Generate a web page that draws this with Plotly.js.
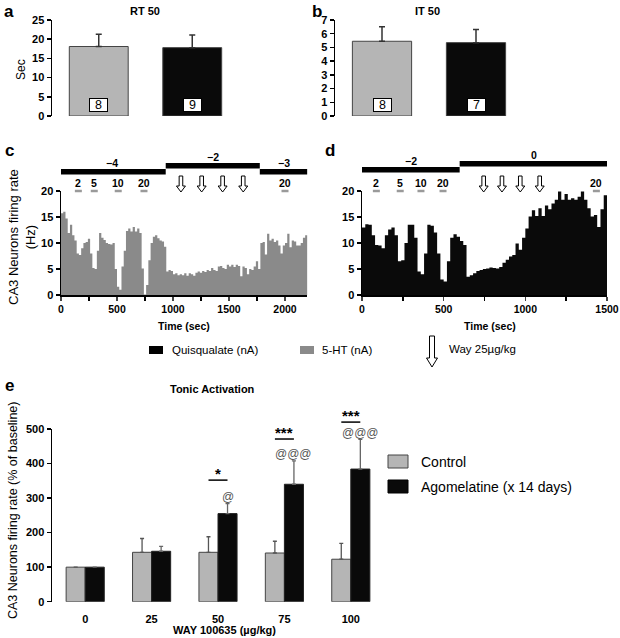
<!DOCTYPE html>
<html><head><meta charset="utf-8">
<script src="https://cdn.plot.ly/plotly-3.0.1.min.js"></script>
<style>html,body{margin:0;padding:0;background:#fff}#chart{width:620px;height:638px}</style>
</head><body><div id="chart"></div>
<script>
// ---------- DATA ----------
const groups = ['Control', 'Agomelatine'];
const rt50 = [18.1, 17.8];
const rt50Err = [3.2, 3.3];
const rt50N = ['8', '9'];
const it50 = [5.45, 5.35];
const it50Err = [1.05, 0.95];
const it50N = ['8', '7'];

// firing-rate histograms (Hz), 20-s bins starting at t = 0
const binWidth = 20;
const rateC = [15.7,16,14.7,11.9,13.5,11.5,10.5,8,7.7,9,
  10,10.2,10.8,8,5.2,5,8.5,11.9,11,10.6,
  10,9.8,9.7,10,5,1.6,1,5.5,8.5,12.3,
  12.8,12.2,13.1,12.2,12.8,11.9,5.1,0.1,1.9,6.7,
  10,11.2,11.5,10.9,10.5,10.3,9.3,4.5,4.8,4.6,
  4,4.2,3.8,4,3.8,4.2,3.7,4.2,4,3.7,
  4.3,4.5,4.3,4.6,4.4,4.8,4.6,5.2,4.8,4.6,
  5.5,5.6,5.2,5,5.8,5.5,5.8,5.4,5.8,5.6,
  3.6,5.5,5.2,4,5,4.8,5.5,6.5,5,10,
  10.2,7.8,11.8,10.5,10.8,10.2,10.5,9.5,8,9.5,
  10,11.8,9.2,10.5,10.3,9.5,9.5,10,11,11.5];
const rateD = [13,13.6,13.5,11.5,9.6,9.5,9,11.5,12.6,13,
  11.5,6.5,6.7,10,13.5,13.5,11,4.5,4,8,
  13.5,13.3,12,8,3,2.6,6.5,11,11.7,11.2,
  10.4,9.6,3.5,3.8,4.2,4.6,4.8,5,5.1,5.3,
  5.2,5.1,5.4,6.2,6.8,7.4,7.7,9.9,8.7,11,
  12.8,15.1,16.3,15.2,16.7,15.2,17.2,16.5,17.6,18.3,
  19.9,18.3,19.4,18.3,18.6,18.3,18.9,19.9,18.3,16.7,
  15.1,15.4,13.1,16.5,19.2];

// quisqualate current periods (nA)
const quisCStart = [-30, 935, 1775];
const quisCEnd = [935, 1775, 2200];
const quisCLevel = [-4, -2, -3];
const quisDStart = [0, 598];
const quisDEnd = [598, 1504];
const quisDLevel = [-2, 0];

// 5-HT applications (time, nA)
const htCTime = [155, 297, 511, 741, 2000];
const htCDose = ['2', '5', '10', '20', '20'];
const htDTime = [88, 234, 361, 496, 1435];
const htDDose = ['2', '5', '10', '20', '20'];

// WAY 100635 injections (time, s)
const wayCTime = [1071, 1256, 1443, 1627];
const wayDTime = [745, 857, 969, 1088];

// panel e
const wayDoses = ['0', '25', '50', '75', '100'];
const ctrlRate = [100, 143, 143, 141, 123];
const ctrlErr = [0, 40, 45, 34, 46];
const agoRate = [100, 146, 255, 340, 384];
const agoErr = [0, 14, 29, 68, 86];
const sigLevel = [null, null, 352, 471, 520];
const sigText = ['', '', '*', '***', '***'];
const atLevel = [null, null, 302, 427, 488];
const atText = ['', '', '@', '@@@', '@@@'];

// ---------- LAYOUT HELPERS ----------
const W = 620, H = 638;
const fx = p => p / W;
const fy = p => 1 - p / H;
const FONT = 'Liberation Sans, Arial, sans-serif';
const GRAY = '#b5b5b5', BLACK = '#0a0a0a', HIST_GRAY = '#8a8a8a';
const bold = (s) => ({family: FONT, size: s, color: '#000', weight: 'bold'});
const reg = (s, c) => ({family: FONT, size: s, color: c || '#000'});

const yAx = (dom, range, dtick) => ({
  domain: dom, range: range, dtick: dtick, showgrid: false, zeroline: false,
  showline: true, linecolor: '#000', linewidth: 1.5, ticks: 'outside', ticklen: 4,
  tickwidth: 1.5, tickcolor: '#000', tickfont: bold(11), fixedrange: true
});
const xHidden = (dom, range) => ({
  domain: dom, range: range, showgrid: false, zeroline: false, showline: false,
  showticklabels: false, ticks: '', fixedrange: true
});
const xTime = (dom, range, tv) => ({
  domain: dom, range: range, showgrid: false, zeroline: false, showline: true,
  linecolor: '#000', linewidth: 1.5, ticks: 'outside', ticklen: 4, tickwidth: 1.5,
  tickvals: tv, tickfont: bold(10.5),
  minor: {dtick: 250, ticks: 'outside', ticklen: 4, tickwidth: 1.5, tickcolor: '#000'}
});

// step-filled histogram built from the bin values
function histTrace(rate, color, xa, ya) {
  const xs = rate.map((v, i) => i * binWidth).concat([rate.length * binWidth]);
  const ys = rate.concat([rate[rate.length - 1]]);
  return {type: 'scatter', mode: 'lines', x: xs, y: ys, xaxis: xa, yaxis: ya,
    line: {shape: 'hv', width: 0, color: color}, fill: 'tozeroy', fillcolor: color};
}

const traces = [];
// a
traces.push({type: 'bar', x: [0, 1], y: rt50, width: 0.63, xaxis: 'x', yaxis: 'y',
  marker: {color: [GRAY, BLACK], line: {color: '#444', width: 1}},
  error_y: {type: 'data', array: rt50Err, arrayminus: [0, 0], symmetric: false,
    color: '#333', thickness: 1.5, width: 3}});
// b
traces.push({type: 'bar', x: [0, 1], y: it50, width: 0.63, xaxis: 'x2', yaxis: 'y2',
  marker: {color: [GRAY, BLACK], line: {color: '#444', width: 1}},
  error_y: {type: 'data', array: it50Err, arrayminus: [0, 0], symmetric: false,
    color: '#333', thickness: 1.5, width: 3}});
// c, d
traces.push(histTrace(rateC, HIST_GRAY, 'x3', 'y3'));
traces.push(histTrace(rateD, BLACK, 'x4', 'y4'));
// e
traces.push({type: 'bar', x: wayDoses.map((d, i) => i), y: ctrlRate, width: 0.287, offset: -0.287,
  xaxis: 'x5', yaxis: 'y5', marker: {color: GRAY, line: {color: '#444', width: 1}},
  error_y: {type: 'data', array: ctrlErr, arrayminus: ctrlErr.map(() => 0), symmetric: false,
    color: '#555', thickness: 1.3, width: 2}});
traces.push({type: 'bar', x: wayDoses.map((d, i) => i), y: agoRate, width: 0.287, offset: 0,
  xaxis: 'x5', yaxis: 'y5', marker: {color: BLACK, line: {color: '#222', width: 1}},
  error_y: {type: 'data', array: agoErr, arrayminus: agoErr.map(() => 0), symmetric: false,
    color: '#666', thickness: 1.3, width: 2}});

const shapes = [];
const ann = [];
const txt = (x, y, text, font, extra) => Object.assign({xref: 'paper', yref: 'paper',
  x: fx(x), y: fy(y), text: text, showarrow: false, font: font,
  xanchor: 'center', yanchor: 'middle'}, extra || {});

// panel letters & titles
ann.push(txt(9, 11, 'a', bold(17)));
ann.push(txt(317, 11, 'b', bold(17)));
ann.push(txt(9, 150, 'c', bold(17)));
ann.push(txt(330, 150, 'd', bold(17)));
ann.push(txt(9, 385, 'e', bold(17)));
ann.push(txt(145, 11, 'RT 50', bold(11)));
ann.push(txt(427, 11, 'IT 50', bold(11)));
ann.push(txt(21, 70, 'Sec', reg(12), {textangle: -90}));

// n labels
rt50N.forEach((n, i) => ann.push({xref: 'x', yref: 'paper', x: i, y: fy(105), text: n,
  showarrow: false, font: reg(12.5), bgcolor: '#fff', bordercolor: '#000', borderwidth: 1, borderpad: 0,
  width: 17, height: 12, xanchor: 'center', yanchor: 'middle'}));
it50N.forEach((n, i) => ann.push({xref: 'x2', yref: 'paper', x: i, y: fy(105), text: n,
  showarrow: false, font: reg(12.5), bgcolor: '#fff', bordercolor: '#000', borderwidth: 1, borderpad: 0,
  width: 17, height: 12, xanchor: 'center', yanchor: 'middle'}));

// quisqualate bars
function quisBars(xref, starts, ends, levels, lowY, highY) {
  const maxL = Math.max(...levels);
  starts.forEach((s, i) => {
    const top = levels[i] === maxL ? highY : lowY;
    shapes.push({type: 'rect', xref: xref, yref: 'paper', x0: s, x1: ends[i],
      y0: fy(top), y1: fy(top + 5.5), fillcolor: '#000', line: {width: 0}});
    ann.push({xref: xref, yref: 'paper', x: (s + ends[i]) / 2, y: fy(top - 6),
      text: levels[i] === 0 ? '0' : '\u2212' + Math.abs(levels[i]), showarrow: false,
      font: bold(10.5), xanchor: 'center', yanchor: 'middle'});
  });
}
quisBars('x3', quisCStart, quisCEnd, quisCLevel, 169, 163);
quisBars('x4', quisDStart, quisDEnd, quisDLevel, 167, 161);

// 5-HT marks
function htMarks(xref, times, doses) {
  times.forEach((t, i) => {
    ann.push({xref: xref, yref: 'paper', x: t, y: fy(183), text: doses[i], showarrow: false,
      font: bold(10.5), xanchor: 'center', yanchor: 'middle'});
    shapes.push({type: 'line', xref: xref, yref: 'paper', xsizemode: 'pixel', xanchor: t,
      x0: -3.5, x1: 3.5, y0: fy(191), y1: fy(191), line: {color: '#9a9a9a', width: 2.5}});
  });
}
htMarks('x3', htCTime, htCDose);
htMarks('x4', htDTime, htDDose);

// WAY arrows (hollow)
const arrowPath = 'M0,0 L-4.5,6 L-1.8,6 L-1.8,16 L1.8,16 L1.8,6 L4.5,6 Z';
function wayArrows(xref, times) {
  times.forEach(t => shapes.push({type: 'path', xref: xref, yref: 'paper',
    xsizemode: 'pixel', xanchor: t, ysizemode: 'pixel', yanchor: fy(192),
    path: arrowPath, fillcolor: '#fff', line: {color: '#000', width: 1}}));
}
wayArrows('x3', wayCTime);
wayArrows('x4', wayDTime);

// axis titles c/d
ann.push(txt(22, 237, 'CA3 Neurons firing rate<br>(Hz)', reg(13), {textangle: -90}));
ann.push(txt(184, 326, 'Time (sec)', bold(10.5)));
ann.push(txt(490, 326, 'Time (sec)', bold(10.5)));

// legend row
shapes.push({type: 'rect', xref: 'paper', yref: 'paper', x0: fx(149), x1: fx(163), y0: fy(346), y1: fy(354),
  fillcolor: '#000', line: {width: 0}});
ann.push(txt(170, 350, 'Quisqualate (nA)', reg(11.5), {xanchor: 'left'}));
shapes.push({type: 'rect', xref: 'paper', yref: 'paper', x0: fx(300), x1: fx(314), y0: fy(346), y1: fy(354),
  fillcolor: HIST_GRAY, line: {width: 0}});
ann.push(txt(320, 350, '5-HT (nA)', reg(11.5), {xanchor: 'left'}));
shapes.push({type: 'path', xref: 'paper', yref: 'paper', xsizemode: 'pixel', xanchor: fx(432),
  ysizemode: 'pixel', yanchor: fy(367),
  path: 'M0,0 L-5.5,9 L-2.5,9 L-2.5,31 L2.5,31 L2.5,9 L5.5,9 Z',
  fillcolor: '#fff', line: {color: '#000', width: 1}});
ann.push(txt(447, 349, 'Way 25\u00b5g/kg', reg(11.5), {xanchor: 'left'}));

// panel e texts
ann.push(txt(212, 389, 'Tonic Activation', bold(11)));
ann.push(txt(13, 511, 'CA3 Neurons firing rate (% of baseline)', reg(12.5), {textangle: -90}));
ann.push(txt(224, 630, 'WAY 100635 (\u00b5g/kg)', bold(11)));
shapes.push({type: 'rect', xref: 'paper', yref: 'paper', x0: fx(388), x1: fx(408), y0: fy(455), y1: fy(468),
  fillcolor: GRAY, line: {color: '#444', width: 1}});
ann.push(txt(419, 462, 'Control', reg(14), {xanchor: 'left'}));
shapes.push({type: 'rect', xref: 'paper', yref: 'paper', x0: fx(388), x1: fx(408), y0: fy(480), y1: fy(493),
  fillcolor: BLACK, line: {color: '#000', width: 1}});
ann.push(txt(419, 487, 'Agomelatine (x 14 days)', reg(14), {xanchor: 'left'}));

// panel e y-axis geometry (used so marks above the axis top are not clipped)
const y5Dom = [fy(601.7), fy(429)];
const y5Range = [0, 500];
const y5Paper = v => y5Dom[0] + (v - y5Range[0]) / (y5Range[1] - y5Range[0]) * (y5Dom[1] - y5Dom[0]);

// significance marks
sigLevel.forEach((v, i) => {
  if (v === null) return;
  shapes.push({type: 'line', xref: 'x5', yref: 'paper', x0: i - 0.143, x1: i + 0.143,
    y0: y5Paper(v), y1: y5Paper(v), line: {color: '#000', width: 1.5}});
  ann.push({xref: 'x5', yref: 'paper', x: i, y: y5Paper(v), yshift: 7, text: sigText[i], showarrow: false,
    font: bold(15), xanchor: 'center', yanchor: 'middle'});
});
atLevel.forEach((v, i) => {
  if (v === null) return;
  ann.push({xref: 'x5', yref: 'paper', x: i + 0.143, y: y5Paper(v), text: atText[i], showarrow: false,
    font: reg(12, '#555'), xanchor: 'center', yanchor: 'middle'});
});

const layout = {
  width: W, height: H, margin: {l: 0, r: 0, t: 0, b: 0}, showlegend: false,
  paper_bgcolor: '#fff', plot_bgcolor: 'rgba(0,0,0,0)', barmode: 'overlay',
  font: {family: FONT, color: '#000'},
  xaxis: xHidden([fx(52), fx(239)], [-0.5, 1.5]),
  yaxis: yAx([fy(116), fy(20)], [0, 25], 5),
  xaxis2: xHidden([fx(335), fx(523)], [-0.5, 1.5]),
  yaxis2: Object.assign(yAx([fy(116), fy(20)], [0, 7], 1), {anchor: 'x2'}),
  xaxis3: Object.assign(xTime([fx(61), fx(307.4)], [0, 2200], [0, 500, 1000, 1500, 2000]), {anchor: 'y3'}),
  yaxis3: Object.assign(yAx([fy(295), fy(191)], [0, 20], 5), {anchor: 'x3'}),
  xaxis4: Object.assign(xTime([fx(362), fx(607)], [0, 1500], [0, 500, 1000, 1500]), {anchor: 'y4'}),
  yaxis4: Object.assign(yAx([fy(295), fy(191)], [0, 20], 5), {anchor: 'x4'}),
  xaxis5: {domain: [fx(52), fx(384)], range: [-0.5, 4.5], anchor: 'y5', showgrid: false, zeroline: false,
    showline: false, ticks: 'outside', ticklen: 7, tickcolor: 'rgba(0,0,0,0)',
    tickvals: [0, 1, 2, 3, 4], ticktext: wayDoses, tickfont: bold(11)},
  yaxis5: Object.assign(yAx(y5Dom, y5Range, 100), {anchor: 'x5'}),
  shapes: shapes, annotations: ann
};
layout.xaxis.anchor = 'y';
layout.xaxis2.anchor = 'y2';

Plotly.newPlot('chart', traces, layout, {staticPlot: true, displayModeBar: false});
</script></body></html>
